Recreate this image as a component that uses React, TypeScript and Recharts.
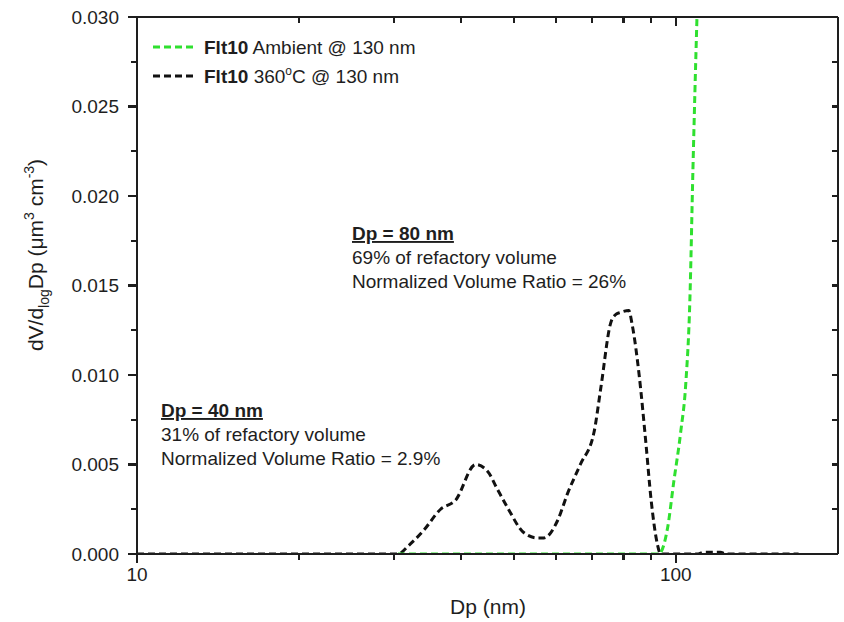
import React from 'react';
import { LineChart, Line, XAxis, YAxis, ReferenceLine } from 'recharts';

// Volume size distribution, Flt10, ambient vs. 360 °C thermodenuded
const AMBIENT_DP = [30.5, 60, 92.9, 96.6, 99.1, 102.1, 104.4, 106.2, 107.6, 109.4, 110.5];
const AMBIENT_DV = [0, 0, 0, 0.0015, 0.004, 0.0068, 0.0096, 0.0142, 0.0215, 0.0297, 0.034];

const HEATED_DP = [
  10, 20, 30.5, 32, 34, 36.6, 39, 42.5, 44.8, 46.5, 48.7, 52.2, 55.3, 56.9, 60.4, 63, 66.5,
  70.5, 72.6, 75.7, 77.5, 79, 81.8, 83, 85.5, 88, 90, 92.5, 93.7, 110, 112.5, 116, 121, 124, 169,
];
const HEATED_DV = [
  0, 0, 0, 0.0005, 0.0013, 0.0025, 0.003, 0.005, 0.0046, 0.0037, 0.0026, 0.0012, 0.0009, 0.0009,
  0.0019, 0.0034, 0.005, 0.0068, 0.0093, 0.0129, 0.0134, 0.0135, 0.0136, 0.0128, 0.01, 0.0062,
  0.003, 0.0005, 0, 0, 0.0001, 0.0001, 0.0001, 0, 0,
];

const X_MIN = 10;
const X_MAX = 200;
const X_TICKS = [10, 20, 30, 40, 50, 60, 70, 80, 90, 100];
const X_LABELED = [10, 100];
const Y_MAX = 0.03;
const Y_TICKS = [0, 0.0025, 0.005, 0.0075, 0.01, 0.0125, 0.015, 0.0175, 0.02, 0.0225, 0.025, 0.0275, 0.03];

// the x axis is linear in log10(Dp), which gives the logarithmic diameter axis
const toRows = (dps: number[], dvs: number[]) => dps.map((dp, i) => ({ lx: Math.log10(dp), dv: dvs[i] }));
const ambient = toRows(AMBIENT_DP, AMBIENT_DV);
const heated = toRows(HEATED_DP, HEATED_DV);

const CHART_W = 844;
const CHART_H = 622;
const MARGIN = { top: 17, right: 6, bottom: 0, left: 0 };
const Y_AXIS_W = 137;
const X_AXIS_H = 68;
const PLOT_W = CHART_W - MARGIN.right - MARGIN.left - Y_AXIS_W;

const FONT = '"Liberation Sans", Arial, sans-serif';
const INK = '#1e1e1e';
const GREEN = '#2fe02f';
const DASH = '7 4';
const MAJOR_LEN = 9;
const MINOR_LEN = 6;
const TICK_W = 2.2;

const AXIS_LINE = { stroke: INK, strokeWidth: 2 };

const isMajorY = (v: number) => Math.abs(v / 0.005 - Math.round(v / 0.005)) < 1e-6;

const tickPath = (d: string) => (
  <path d={d} stroke={INK} strokeWidth={TICK_W} fill="none" shapeRendering="crispEdges" />
);

// labels under the diameter axis; x, y arrive on the axis line
const BottomLabel = (props: any) => {
  const { x, y, payload } = props;
  return (
    <text x={x} y={y + 27} textAnchor="middle" fontSize={19} fontFamily={FONT} fill={INK}>
      {Math.round(10 ** payload.value)}
    </text>
  );
};

// a diameter tick: outward below the lower edge, inward below the upper edge
const xTickShape = (len: number) => (props: any) => {
  const { x1, y1, y2 } = props;
  const top = Math.min(y1, y2);
  const bottom = Math.max(y1, y2);
  return (
    <g>
      {tickPath(`M${x1},${bottom}V${bottom + len}`)}
      {tickPath(`M${x1},${top}V${top + len}`)}
    </g>
  );
};

// y ticks: outward on the left edge, mirrored inward on the right edge
const LeftTick = (props: any) => {
  const { x, y, payload } = props;
  const major = isMajorY(payload.value);
  const right = x + PLOT_W;
  return (
    <g>
      {tickPath(`M${x},${y}H${x - (major ? MAJOR_LEN : MINOR_LEN)}`)}
      {tickPath(`M${right},${y}H${right - MINOR_LEN}`)}
      {major && (
        <text x={x - 18} y={y} dy="0.35em" textAnchor="end" fontSize={19} fontFamily={FONT} fill={INK}>
          {payload.value.toFixed(3)}
        </text>
      )}
    </g>
  );
};

export default function App() {
  return (
    <div style={{ position: 'absolute', left: 0, top: 0 }}>
      <LineChart width={CHART_W} height={CHART_H} margin={MARGIN}>
        <XAxis
          xAxisId="b"
          dataKey="lx"
          type="number"
          domain={[Math.log10(X_MIN), Math.log10(X_MAX)]}
          allowDataOverflow
          ticks={X_LABELED.map(Math.log10)}
          interval={0}
          height={X_AXIS_H}
          tickLine={false}
          tickSize={0}
          tickMargin={0}
          tick={BottomLabel}
          axisLine={AXIS_LINE}
        />
        <YAxis
          yAxisId="l"
          type="number"
          domain={[0, Y_MAX]}
          allowDataOverflow
          ticks={Y_TICKS}
          interval={0}
          width={Y_AXIS_W}
          tickLine={false}
          tickSize={0}
          tickMargin={0}
          tick={LeftTick}
          axisLine={AXIS_LINE}
        />
        {/* upper and right frame edges */}
        <ReferenceLine xAxisId="b" yAxisId="l" y={Y_MAX} stroke={INK} strokeWidth={2} ifOverflow="visible" />
        <ReferenceLine
          xAxisId="b"
          yAxisId="l"
          x={Math.log10(X_MAX)}
          stroke={INK}
          strokeWidth={2}
          ifOverflow="visible"
        />
        {/* diameter ticks on the lower and upper edges */}
        {X_TICKS.map((nm) => (
          <ReferenceLine
            key={nm}
            xAxisId="b"
            yAxisId="l"
            x={Math.log10(nm)}
            ifOverflow="visible"
            shape={xTickShape(X_LABELED.includes(nm) ? MAJOR_LEN : MINOR_LEN)}
          />
        ))}
        <Line
          xAxisId="b"
          yAxisId="l"
          data={heated}
          dataKey="dv"
          type="monotone"
          stroke="#111"
          strokeWidth={3}
          strokeDasharray={DASH}
          dot={false}
          isAnimationActive={false}
        />
        <Line
          xAxisId="b"
          yAxisId="l"
          data={ambient}
          dataKey="dv"
          type="monotone"
          stroke={GREEN}
          strokeWidth={3}
          strokeDasharray={DASH}
          dot={false}
          isAnimationActive={false}
        />

        {/* legend */}
        <g fontFamily={FONT} fontSize={19} fill={INK}>
          <line x1={153} x2={194} y1={47} y2={47} stroke={GREEN} strokeWidth={3} strokeDasharray="7 4" />
          <text x={204} y={54}>
            <tspan fontWeight="bold">Flt10</tspan> Ambient @ 130 nm
          </text>
          <line x1={153} x2={194} y1={76} y2={76} stroke="#111" strokeWidth={3} strokeDasharray="7 4" />
          <text x={204} y={83}>
            <tspan fontWeight="bold">Flt10</tspan> 360
            <tspan dy={-8} fontSize={12}>o</tspan>
            <tspan dy={8}>C @ 130 nm</tspan>
          </text>
        </g>

        {/* peak annotations */}
        <g fontFamily={FONT} fontSize={19} fill={INK}>
          <text x={352} y={240} fontWeight="bold" textDecoration="underline">Dp = 80 nm</text>
          <text x={352} y={264}>69% of refactory volume</text>
          <text x={352} y={288}>Normalized Volume Ratio = 26%</text>
          <text x={161} y={417} fontWeight="bold" textDecoration="underline">Dp = 40 nm</text>
          <text x={161} y={441}>31% of refactory volume</text>
          <text x={161} y={465}>Normalized Volume Ratio = 2.9%</text>
        </g>

        {/* axis titles */}
        <text x={488} y={614} textAnchor="middle" fontFamily={FONT} fontSize={21} fill={INK}>
          Dp (nm)
        </text>
        <text
          x={43}
          y={255}
          textAnchor="middle"
          transform="rotate(-90 43 255)"
          fontFamily={FONT}
          fontSize={21}
          fill={INK}
        >
          dV/d<tspan dy={6} fontSize={14}>log</tspan>
          <tspan dy={-6}>Dp (μm</tspan>
          <tspan dy={-9} fontSize={14}>3</tspan>
          <tspan dy={9}> cm</tspan>
          <tspan dy={-9} fontSize={14}>-3</tspan>
          <tspan dy={9}>)</tspan>
        </text>
      </LineChart>
    </div>
  );
}
